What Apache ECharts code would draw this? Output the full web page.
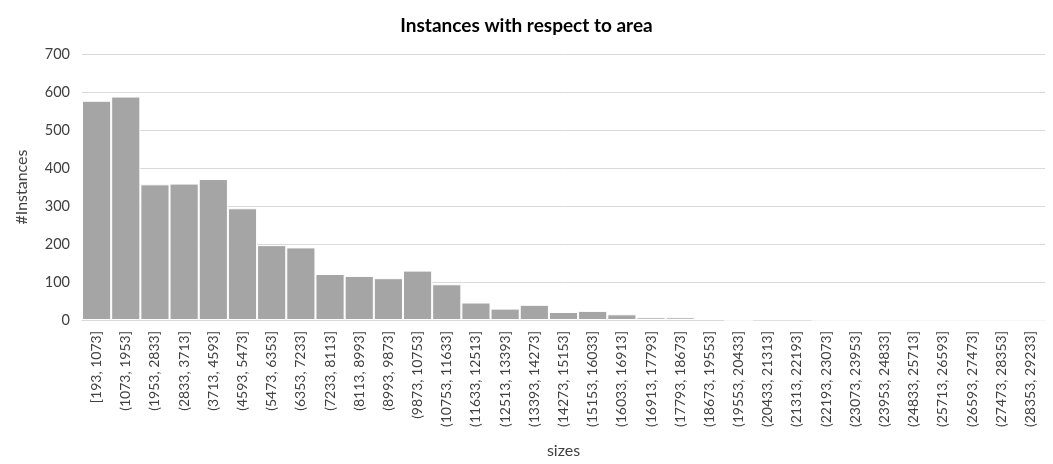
<!DOCTYPE html>
<html>
<head>
<meta charset="utf-8">
<script src="https://cdn.jsdelivr.net/npm/echarts@6/dist/echarts.min.js"></script>
<style>html,body{margin:0;padding:0;background:#fff;}#c{width:1053px;height:464px;}</style>
</head>
<body>
<div id="c"></div>
<script>
const categories = ["[193, 1073]","(1073, 1953]","(1953, 2833]","(2833, 3713]","(3713, 4593]","(4593, 5473]","(5473, 6353]","(6353, 7233]","(7233, 8113]","(8113, 8993]","(8993, 9873]","(9873, 10753]","(10753, 11633]","(11633, 12513]","(12513, 13393]","(13393, 14273]","(14273, 15153]","(15153, 16033]","(16033, 16913]","(16913, 17793]","(17793, 18673]","(18673, 19553]","(19553, 20433]","(20433, 21313]","(21313, 22193]","(22193, 23073]","(23073, 23953]","(23953, 24833]","(24833, 25713]","(25713, 26593]","(26593, 27473]","(27473, 28353]","(28353, 29233]"];
const instances = [577,588,357,359,371,294,197,191,121,116,110,130,94,46,30,40,21,24,15,7,7,3,0,2,2,0,0,0,0,0,0,0,0];
const titleText = "Instances with respect to area";
const xName = "sizes";
const yName = "#Instances";

const font = "Lato, 'Open Sans', sans-serif";
const chart = echarts.init(document.getElementById('c'), null, {renderer:'canvas'});
chart.setOption({
  animation:false,
  title:{text:titleText,left:'center',top:11,textStyle:{fontFamily:font,fontSize:19,fontWeight:'bold',color:'#000'}},
  grid:{left:82,right:8,top:54,bottom:142,containLabel:false},
  xAxis:{type:'category',data:categories,name:xName,nameLocation:'middle',nameGap:123,
    nameTextStyle:{fontFamily:font,fontSize:16,color:'#404040'},
    axisLine:{lineStyle:{color:'#D9D9D9',width:1}},axisTick:{show:false},
    axisLabel:{rotate:90,interval:0,fontFamily:font,fontSize:14,color:'#404040',margin:11}},
  yAxis:{type:'value',min:0,max:700,interval:100,name:yName,nameLocation:'middle',nameGap:52,
    nameTextStyle:{fontFamily:font,fontSize:16,color:'#404040'},
    axisLine:{show:false},axisTick:{show:false},
    splitLine:{lineStyle:{color:'#D9D9D9',width:1}},
    axisLabel:{fontFamily:font,fontSize:14.5,color:'#404040',margin:12}},
  series:[{type:'bar',data:instances,barCategoryGap:'0%',
    itemStyle:{color:'#A5A5A5',borderColor:'#FFFFFF',borderWidth:1}}]
});
</script>
</body>
</html>
